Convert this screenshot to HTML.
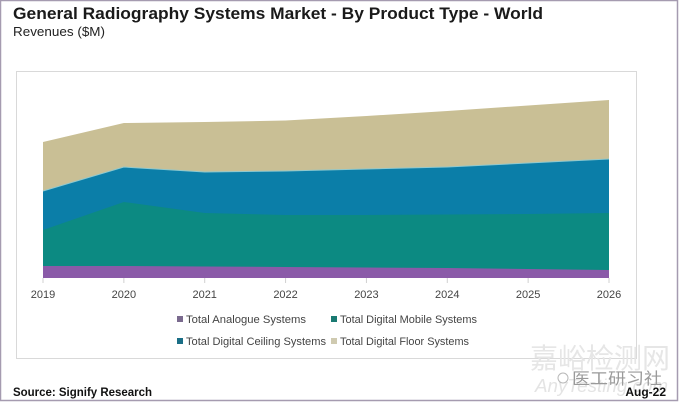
<!DOCTYPE html>
<html>
<head>
<meta charset="utf-8">
<style>
html,body{margin:0;padding:0;background:#fff;}
svg{display:block;}
</style>
</head>
<body>
<svg width="680" height="403" viewBox="0 0 680 403" xmlns="http://www.w3.org/2000/svg">
  <rect x="0" y="0" width="680" height="403" fill="#ffffff"/>
  <!-- outer border -->
  <rect x="0.5" y="0.5" width="677" height="400" fill="none" stroke="#a59bb0" stroke-width="1.5"/>
  <!-- title -->
  <text x="13" y="19" font-family="Liberation Sans, sans-serif" font-weight="bold" font-size="17" fill="#1a1a1a" textLength="530" lengthAdjust="spacingAndGlyphs">General Radiography Systems Market - By Product Type - World</text>
  <text x="13" y="36" font-family="Liberation Sans, sans-serif" font-size="13" fill="#222" textLength="92" lengthAdjust="spacingAndGlyphs">Revenues ($M)</text>
  <!-- chart frame -->
  <rect x="16.5" y="71.5" width="620" height="287" fill="#ffffff" stroke="#d9d9d9" stroke-width="1"/>

  <!-- areas -->
  <polygon fill="#c9bf95" points="43,142 123.86,123 204.71,122 285.57,120.5 366.43,116 447.29,111 528.14,105.5 609,100 609,278 43,278"/>
  <polygon fill="#0b7ea8" points="43,191 123.86,167 204.71,172 285.57,171 366.43,169 447.29,167 528.14,163 609,159 609,278 43,278"/>
  <polyline fill="none" stroke="#8fc9cf" stroke-width="1" points="43,191 123.86,167 204.71,172 285.57,171 366.43,169 447.29,167 528.14,163 609,159"/>
  <polygon fill="#0c8a82" points="43,230 123.86,202 204.71,213 285.57,215 366.43,215 447.29,214.5 528.14,214 609,213 609,278 43,278"/>
  <polygon fill="#8a5aa8" points="43,266 123.86,266 204.71,266.5 285.57,267 366.43,267.5 447.29,268 528.14,269 609,270 609,278 43,278"/>

  <!-- ticks -->
  <g stroke="#d0d0d0" stroke-width="1">
    <line x1="43" y1="278" x2="43" y2="283"/>
    <line x1="123.86" y1="278" x2="123.86" y2="283"/>
    <line x1="204.71" y1="278" x2="204.71" y2="283"/>
    <line x1="285.57" y1="278" x2="285.57" y2="283"/>
    <line x1="366.43" y1="278" x2="366.43" y2="283"/>
    <line x1="447.29" y1="278" x2="447.29" y2="283"/>
    <line x1="528.14" y1="278" x2="528.14" y2="283"/>
    <line x1="609" y1="278" x2="609" y2="283"/>
  </g>
  <g font-family="Liberation Sans, sans-serif" font-size="11" fill="#444" text-anchor="middle">
    <text x="43" y="298">2019</text>
    <text x="123.86" y="298">2020</text>
    <text x="204.71" y="298">2021</text>
    <text x="285.57" y="298">2022</text>
    <text x="366.43" y="298">2023</text>
    <text x="447.29" y="298">2024</text>
    <text x="528.14" y="298">2025</text>
    <text x="609" y="298">2026</text>
  </g>

  <!-- legend -->
  <g font-family="Liberation Sans, sans-serif" font-size="11" fill="#444">
    <rect x="177" y="316" width="6" height="6" fill="#7a6a8e"/>
    <text x="186" y="323" textLength="120" lengthAdjust="spacingAndGlyphs">Total Analogue Systems</text>
    <rect x="331" y="316" width="6" height="6" fill="#1a7a72"/>
    <text x="340" y="323" textLength="137" lengthAdjust="spacingAndGlyphs">Total Digital Mobile Systems</text>
    <rect x="177" y="338" width="6" height="6" fill="#1a6e86"/>
    <text x="186" y="345" textLength="140" lengthAdjust="spacingAndGlyphs">Total Digital Ceiling Systems</text>
    <rect x="331" y="338" width="6" height="6" fill="#cfcab0"/>
    <text x="340" y="345" textLength="129" lengthAdjust="spacingAndGlyphs">Total Digital Floor Systems</text>
  </g>

  <!-- watermark -->
  <text x="530" y="368" font-family="Noto Sans CJK SC, WenQuanYi Zen Hei, sans-serif" font-size="28" fill="#e6e6e6" textLength="140" lengthAdjust="spacingAndGlyphs">嘉峪检测网</text>
  <text x="535" y="392" font-family="Liberation Sans, sans-serif" font-style="italic" font-size="18" fill="#e4e4e4" textLength="133" lengthAdjust="spacingAndGlyphs">AnyTesting.com</text>
  <circle cx="563" cy="378" r="5" fill="none" stroke="#b8b8b8" stroke-width="1"/>
  <text x="572" y="384" font-family="Noto Sans CJK SC, WenQuanYi Zen Hei, sans-serif" font-size="16" fill="#9a9a9a" textLength="90" lengthAdjust="spacingAndGlyphs">医工研习社</text>

  <!-- footer -->
  <text x="13" y="396" font-family="Liberation Sans, sans-serif" font-weight="bold" font-size="12" fill="#111" textLength="139" lengthAdjust="spacingAndGlyphs">Source: Signify Research</text>
  <text x="666" y="396" font-family="Liberation Sans, sans-serif" font-weight="bold" font-size="12" fill="#111" text-anchor="end">Aug-22</text>
</svg>
</body>
</html>
